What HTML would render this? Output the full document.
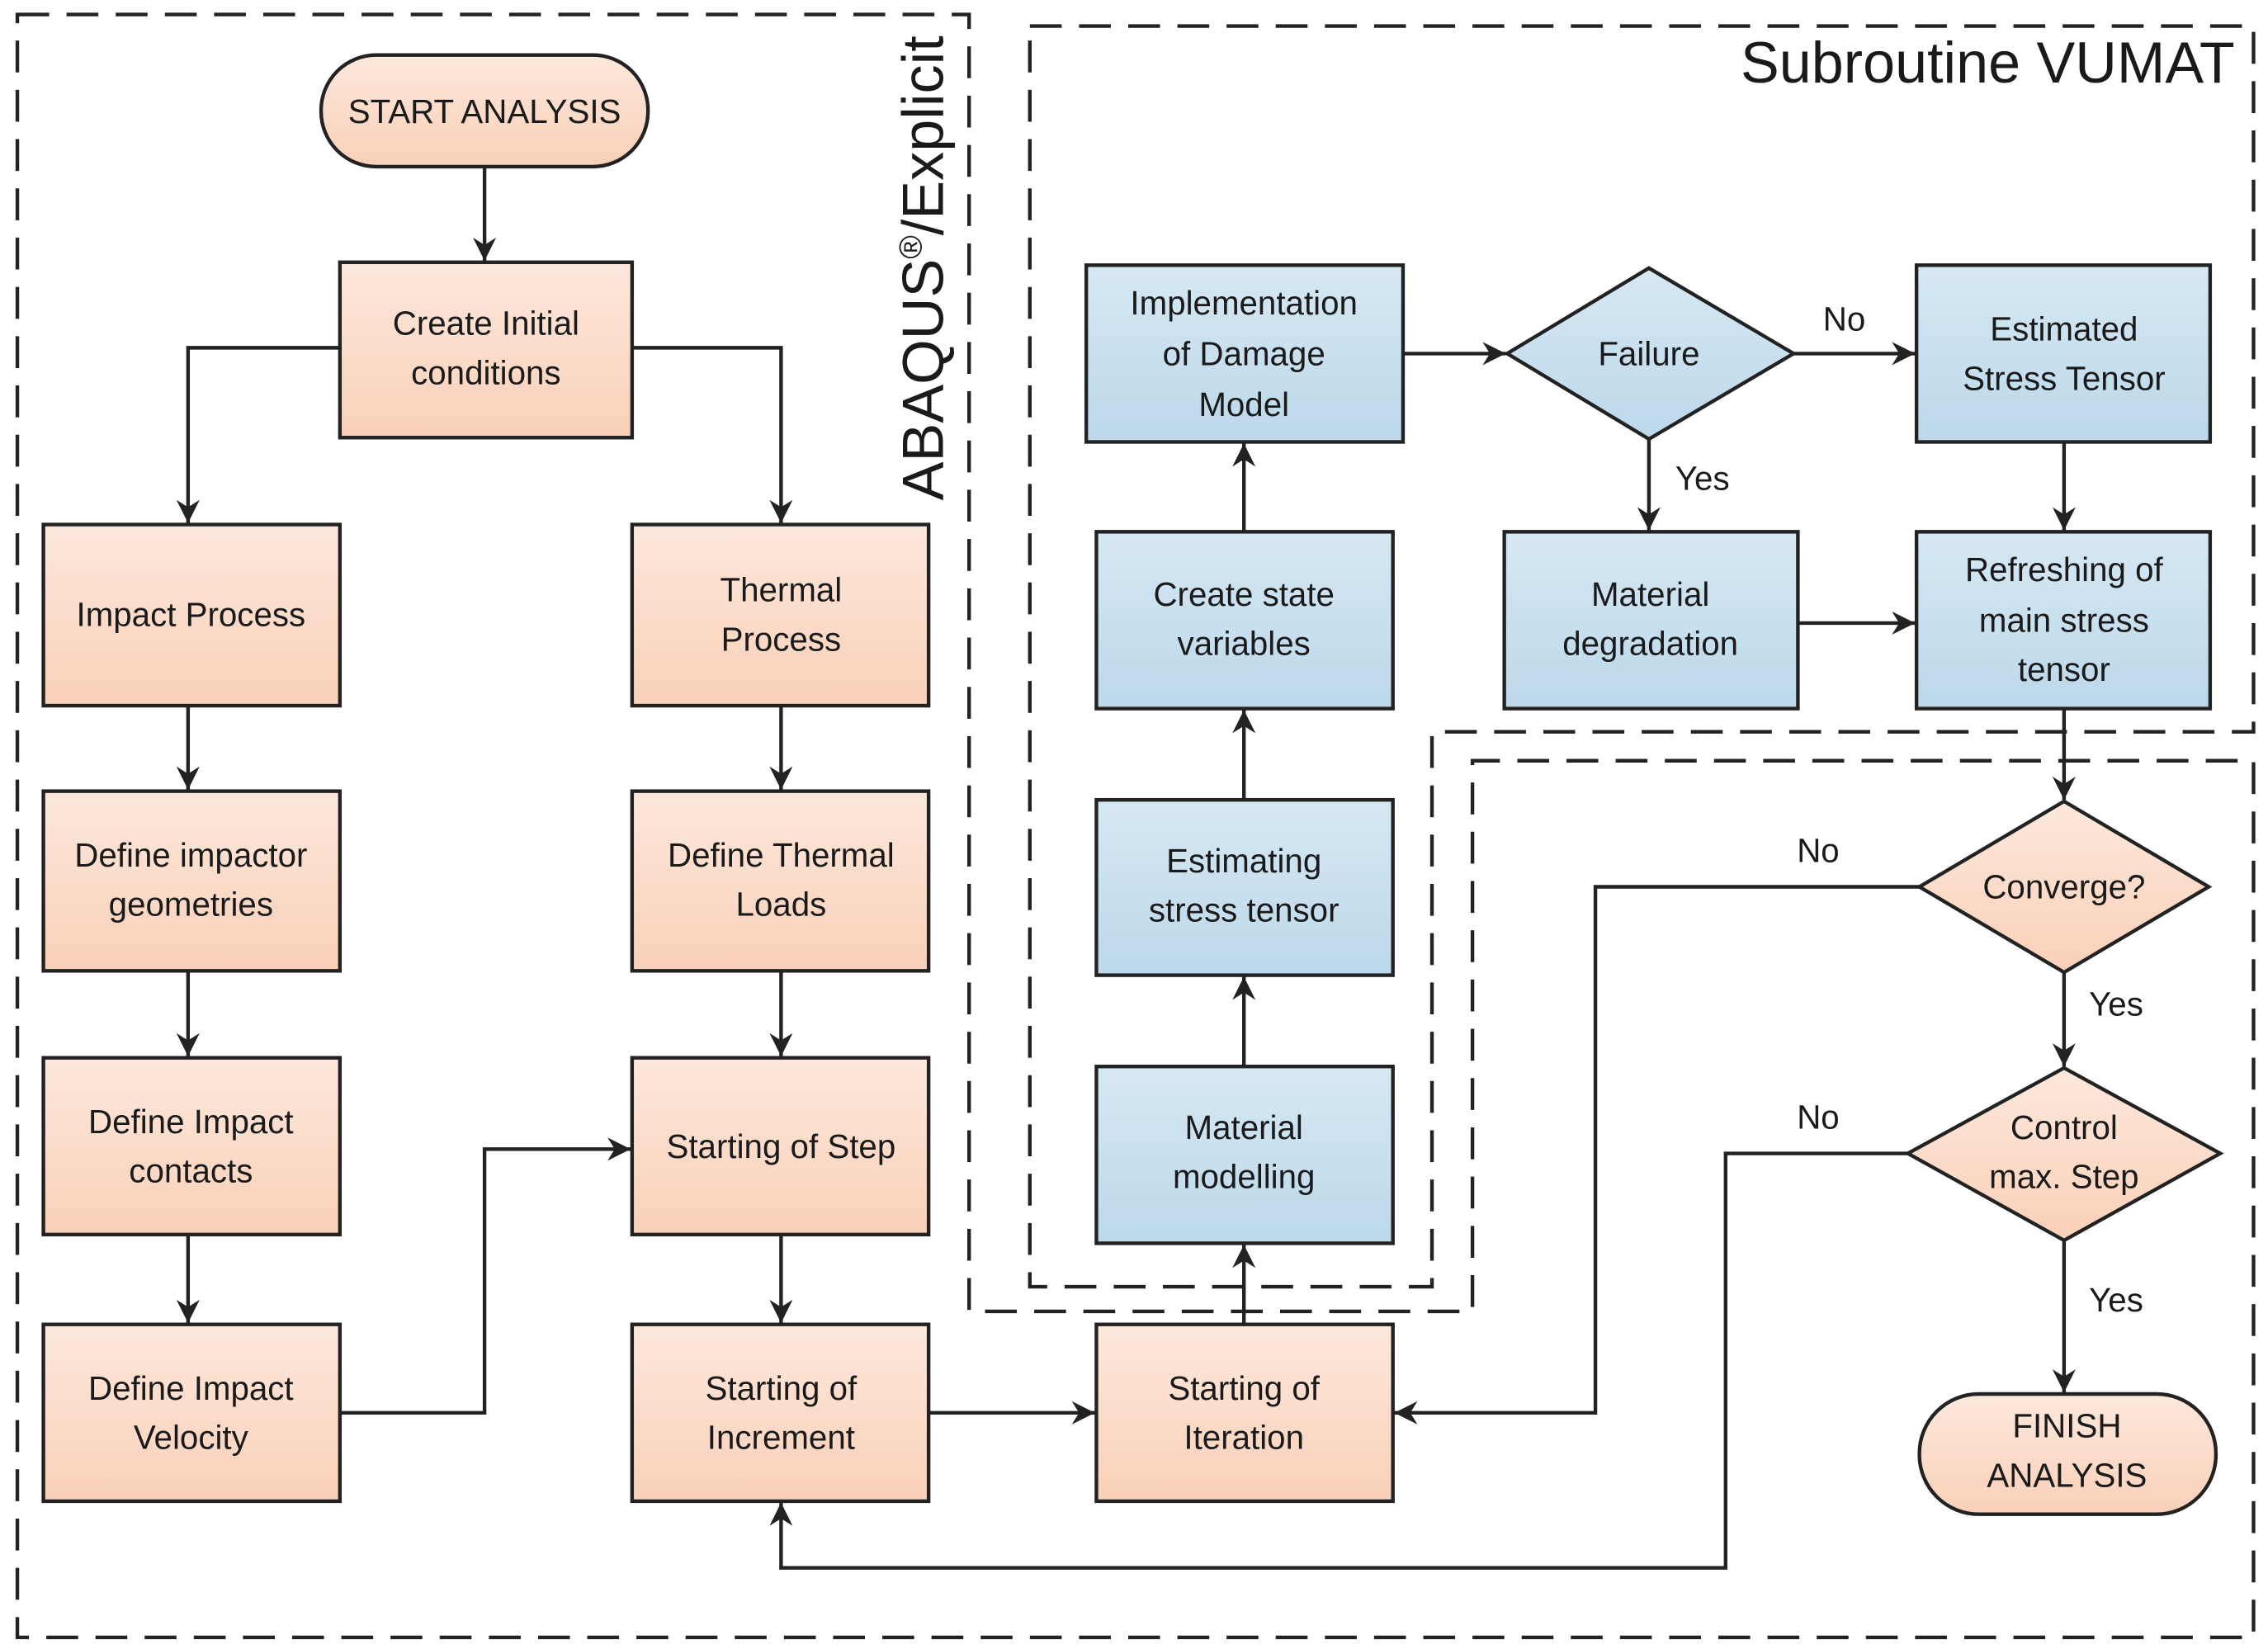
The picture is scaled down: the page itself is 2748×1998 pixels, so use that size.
<!DOCTYPE html>
<html><head><meta charset="utf-8"><style>
html,body{margin:0;padding:0;background:#fff;}
svg{display:block;}
text{font-family:"Liberation Sans",sans-serif;fill:#1a1a1a;}
</style></head><body>
<svg width="2748" height="1998" viewBox="0 0 1568 1138" preserveAspectRatio="none" xmlns="http://www.w3.org/2000/svg">
<defs>
<linearGradient id="og" x1="0" y1="0" x2="0" y2="1"><stop offset="0" stop-color="#fde8dc"/><stop offset="1" stop-color="#f9d0b8"/></linearGradient>
<linearGradient id="bg" x1="0" y1="0" x2="0" y2="1"><stop offset="0" stop-color="#d6e8f3"/><stop offset="1" stop-color="#bcd8ea"/></linearGradient>
<marker id="a" markerWidth="18" markerHeight="18" refX="16" refY="8" orient="auto" markerUnits="userSpaceOnUse"><path d="M0,0 L16,8 L0,16 L5,8 Z" fill="#222"/></marker>
</defs>
<g fill="none" stroke="#222" stroke-width="2.5" stroke-dasharray="22,12">
<path d="M12,10 H670 V905 H1018 V525 H1558 V1130 H12 Z"/>
<path d="M712,18 H1558 V505 H990 V888 H712 Z"/>
</g>
<g stroke="#222" stroke-width="2.5">
<rect x="222" y="38" width="226" height="77" rx="38" fill="url(#og)"/>
<rect x="235" y="181" width="202" height="121" fill="url(#og)"/>
<rect x="30" y="362" width="205" height="125" fill="url(#og)"/>
<rect x="437" y="362" width="205" height="125" fill="url(#og)"/>
<rect x="30" y="546" width="205" height="124" fill="url(#og)"/>
<rect x="437" y="546" width="205" height="124" fill="url(#og)"/>
<rect x="30" y="730" width="205" height="122" fill="url(#og)"/>
<rect x="437" y="730" width="205" height="122" fill="url(#og)"/>
<rect x="30" y="914" width="205" height="122" fill="url(#og)"/>
<rect x="437" y="914" width="205" height="122" fill="url(#og)"/>
<rect x="758" y="914" width="205" height="122" fill="url(#og)"/>
<rect x="758" y="736" width="205" height="122" fill="url(#bg)"/>
<rect x="758" y="552" width="205" height="121" fill="url(#bg)"/>
<rect x="758" y="367" width="205" height="122" fill="url(#bg)"/>
<rect x="751" y="183" width="219" height="122" fill="url(#bg)"/>
<rect x="1325" y="183" width="203" height="122" fill="url(#bg)"/>
<rect x="1040" y="367" width="203" height="122" fill="url(#bg)"/>
<rect x="1325" y="367" width="203" height="122" fill="url(#bg)"/>
<path d="M1042,244 L1140,185 L1240,244 L1140,303 Z" fill="url(#bg)"/>
<path d="M1327,612 L1427,553 L1527,612 L1427,671 Z" fill="url(#og)"/>
<path d="M1319,796 L1427,737 L1535,796 L1427,856 Z" fill="url(#og)"/>
<rect x="1327" y="962" width="205" height="83" rx="41" fill="url(#og)"/>
</g>
<g fill="none" stroke="#222" stroke-width="2.5" marker-end="url(#a)">
<path d="M335,115 V180"/>
<path d="M235,240 H130 V361"/>
<path d="M437,240 H540 V361"/>
<path d="M130,487 V545"/><path d="M540,487 V545"/>
<path d="M130,670 V729"/><path d="M540,670 V729"/>
<path d="M130,852 V913"/><path d="M540,852 V913"/>
<path d="M235,975 H335 V793 H436"/>
<path d="M642,975 H757"/>
<path d="M860,914 V859"/>
<path d="M860,736 V674"/>
<path d="M860,552 V490"/>
<path d="M860,367 V306"/>
<path d="M970,244 H1041"/>
<path d="M1240,244 H1324"/>
<path d="M1140,303 V366"/>
<path d="M1427,305 V366"/>
<path d="M1243,430 H1324"/>
<path d="M1427,489 V552"/>
<path d="M1327,612 H1103 V975 H964"/>
<path d="M1427,671 V736"/>
<path d="M1319,796 H1193 V1082 H540 V1037"/>
<path d="M1427,856 V961"/>
</g>
<g font-size="23" text-anchor="middle">
<text x="335" y="85">START ANALYSIS</text>
<text x="336" y="231">Create Initial</text><text x="336" y="265">conditions</text>
<text x="132" y="432">Impact Process</text>
<text x="540" y="415">Thermal</text><text x="540" y="449">Process</text>
<text x="132" y="598">Define impactor</text><text x="132" y="632">geometries</text>
<text x="540" y="598">Define Thermal</text><text x="540" y="632">Loads</text>
<text x="132" y="782">Define Impact</text><text x="132" y="816">contacts</text>
<text x="540" y="799">Starting of Step</text>
<text x="132" y="966">Define Impact</text><text x="132" y="1000">Velocity</text>
<text x="540" y="966">Starting of</text><text x="540" y="1000">Increment</text>
<text x="860" y="966">Starting of</text><text x="860" y="1000">Iteration</text>
<text x="860" y="786">Material</text><text x="860" y="820">modelling</text>
<text x="860" y="602">Estimating</text><text x="860" y="636">stress tensor</text>
<text x="860" y="418">Create state</text><text x="860" y="452">variables</text>
<text x="860" y="217">Implementation</text><text x="860" y="252">of Damage</text><text x="860" y="287">Model</text>
<text x="1140" y="252">Failure</text>
<text x="1427" y="235">Estimated</text><text x="1427" y="269">Stress Tensor</text>
<text x="1141" y="418">Material</text><text x="1141" y="452">degradation</text>
<text x="1427" y="401">Refreshing of</text><text x="1427" y="436">main stress</text><text x="1427" y="470">tensor</text>
<text x="1427" y="620">Converge?</text>
<text x="1427" y="786">Control</text><text x="1427" y="820">max. Step</text>
<text x="1429" y="992">FINISH</text><text x="1429" y="1026">ANALYSIS</text>
<text x="1275" y="228">No</text>
<text x="1177" y="338">Yes</text>
<text x="1257" y="595">No</text>
<text x="1463" y="701">Yes</text>
<text x="1257" y="779">No</text>
<text x="1463" y="905">Yes</text>
</g>
<text x="1545" y="57" font-size="40" text-anchor="end">Subroutine VUMAT</text>
<text transform="translate(652,185) rotate(-90)" font-size="40" text-anchor="middle">ABAQUS<tspan font-size="22" dy="-15">®</tspan><tspan dy="15">/Explicit</tspan></text>
</svg>
</body></html>
